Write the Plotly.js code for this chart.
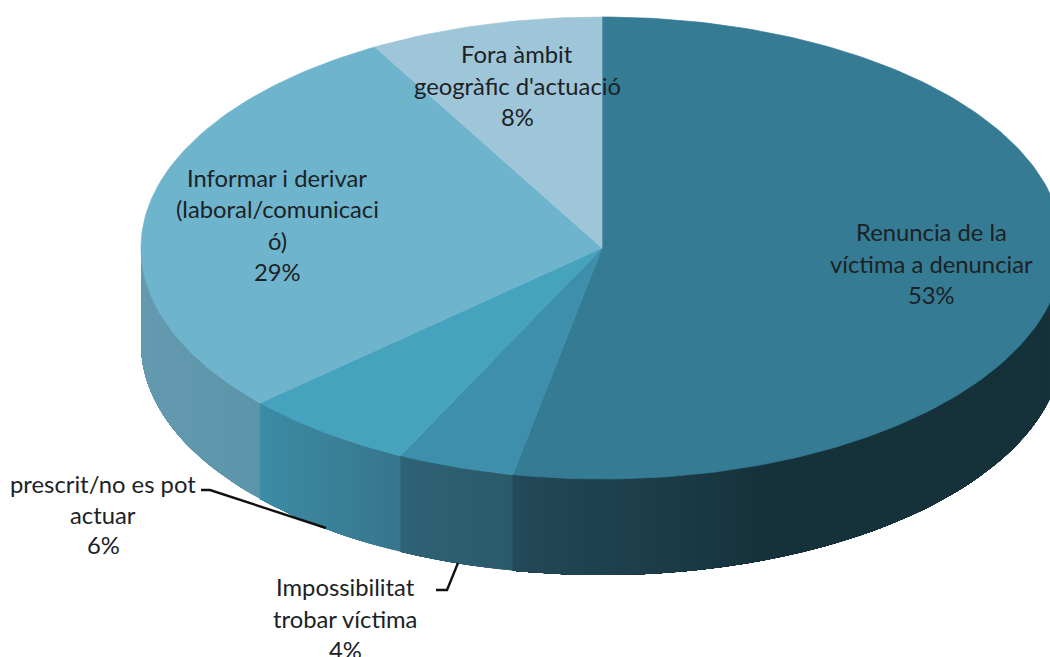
<!DOCTYPE html>
<html>
<head>
<meta charset="utf-8">
<script src="https://cdn.plot.ly/plotly-3.0.1.min.js"></script>
<style>html,body{margin:0;padding:0;background:#fff}#chart{width:1050px;height:657px}</style>
</head>
<body>
<div id="chart"></div>
<script>
// Data, clockwise from 12 o'clock (shares)
var categories = ["Renuncia de la víctima a denunciar", "Impossibilitat trobar víctima", "prescrit/no es pot actuar", "Informar i derivar (laboral/comunicació)", "Fora àmbit geogràfic d'actuació"];
var shares = [53.1, 4.1, 6.1, 28.5, 8.2];
var labelLines = [
  ["Renuncia de la", "víctima a denunciar", "53%"],
  ["Impossibilitat", "trobar víctima", "4%"],
  ["prescrit/no es pot", "actuar", "6%"],
  ["Informar i derivar", "(laboral/comunicaci", "ó)", "29%"],
  ["Fora àmbit", "geogràfic d'actuació", "8%"]
];
// Styling
var topColors = ["#357b93", "#3e8fab", "#46a3be", "#6fb4cd", "#9fc6d8"];
var sideStart = [[36,73,89], [46,98,116], [60,139,165], [100,154,175], [159,198,216]];
var sideEnd   = [[21,49,58], [42,90,107], [55,118,140], [92,148,170], [159,198,216]];
var labelCentres = [[931, 232], [345, 587], [103, 484], [277, 178], [517, 54]];
var lineSteps = [31.5, 31.5, 30.5, 31.3, 31.5];
var leaders = ["M201,490 L210,490 L326,528", "M436,590 L447,590 L458,563"];
var cx = 602, cy = 248, rx = 461, ry = 231, depth = 96, gradientLimitX = 780;

function pt(turn, dy) {
  var a = turn * 2 * Math.PI;
  return [cx + rx * Math.sin(a), cy - ry * Math.cos(a) + (dy || 0)];
}
function poly(points, color, lw) {
  return {type: "scatter", mode: "lines", x: points.map(function(p){return p[0];}), y: points.map(function(p){return p[1];}),
    fill: "toself", fillcolor: color, line: {color: color, width: lw}, hoverinfo: "skip", showlegend: false};
}
var total = shares.reduce(function(a, b){return a + b;}, 0);
var traces = [], tops = [], acc = 0;
shares.forEach(function(v, i) {
  var t0 = acc / total, t1 = (acc + v) / total;
  acc += v;
  // front wall of the slice, only where it faces the viewer (0.25..0.75 turn)
  var a = Math.max(t0, 0.25), b = Math.min(t1, 0.75);
  if (b > a) {
    var n = Math.max(2, Math.ceil((b - a) * 400));
    var xa = Math.min(pt(a)[0], pt(b)[0]), xb = Math.min(Math.max(pt(a)[0], pt(b)[0]), gradientLimitX);
    for (var k = 0; k < n; k++) {
      var s0 = a + (b - a) * k / n;
      var xm = pt(a + (b - a) * (k + 0.5) / n)[0];
      var f = Math.max(0, Math.min(1, (xm - xa) / (xb - xa)));
      var c = sideStart[i].map(function(q, j){return Math.round(q + (sideEnd[i][j] - q) * f);});
      // each band runs to the far end of the slice and is overpainted by the next, so no seams show
      var upper = [], lower = [], steps = Math.max(2, Math.ceil((n - k) / 3));
      for (var u = 0; u <= steps; u++) {
        var s = s0 + (b - s0) * u / steps;
        upper.push(pt(s)); lower.unshift(pt(s, depth));
      }
      traces.push(poly(upper.concat(lower, [upper[0]]), "rgb(" + c.join(",") + ")", 0));
    }
  }
  // top face
  var pts = [[cx, cy]], m = Math.max(4, Math.ceil((t1 - t0) * 360));
  for (var j = 0; j <= m; j++) pts.push(pt(t0 + (t1 - t0) * j / m));
  pts.push([cx, cy]);
  var tr = poly(pts, topColors[i], 0.7);
  tr.name = categories[i];
  tops.push(tr);
});
traces = traces.concat(tops);

var annotations = [];
labelLines.forEach(function(lines, i) {
  lines.forEach(function(txt, l) {
    annotations.push({xref: "x", yref: "y", x: labelCentres[i][0], y: labelCentres[i][1] + l * lineSteps[i],
      text: txt, showarrow: false, xanchor: "center", yanchor: "middle",
      font: {family: "Lato, 'Open Sans', sans-serif", size: 23.8, color: "#1c2226"}});
  });
});
var layout = {
  width: 1050, height: 657, margin: {l: 0, r: 0, t: 0, b: 0},
  paper_bgcolor: "#fff", plot_bgcolor: "#fff", showlegend: false,
  xaxis: {range: [0, 1050], visible: false, fixedrange: true},
  yaxis: {range: [657, 0], visible: false, fixedrange: true},
  annotations: annotations,
  shapes: leaders.map(function(p){return {type: "path", xref: "x", yref: "y", path: p, line: {color: "#111", width: 2.4}};})
};
Plotly.newPlot("chart", traces, layout, {staticPlot: true, displayModeBar: false});
</script>
</body>
</html>
